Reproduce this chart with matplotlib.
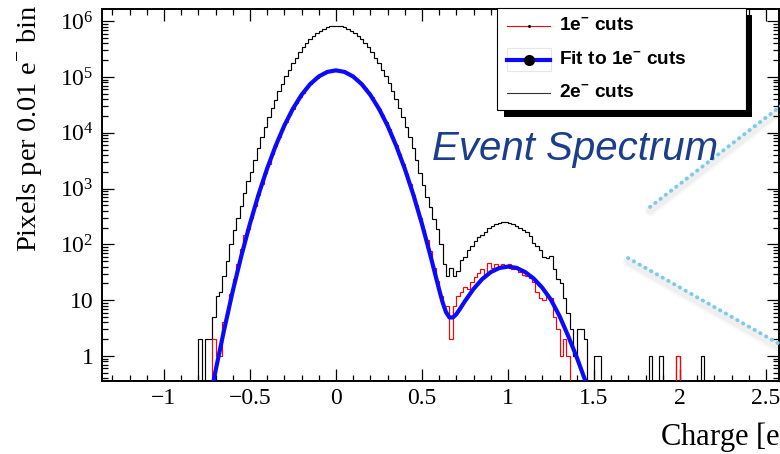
import numpy as np
import matplotlib
matplotlib.use("Agg")
import matplotlib.pyplot as plt
from matplotlib.patches import Rectangle
from matplotlib.ticker import LogLocator, MultipleLocator, FuncFormatter, NullFormatter

# ---------------- data (counts per bin, bin width 0.02 e-) ----------------
bin_width = 0.02

black_start = -0.80
black_counts = [
    2, 0, 2, 2, 5, 12, 14, 27, 50, 100, 178, 300, 490, 820, 1350, 1950, 3300,
    5300, 8300, 12700, 18900, 27600, 39500, 55500, 76200, 102800, 135800,
    175800, 223300, 277700, 338800, 405500, 475300, 546500, 615500, 680000,
    736500, 781600, 813000, 830000, 829000, 812000, 782000, 737000, 681000,
    616000, 547000, 476000, 406000, 339000, 278000, 224000, 176500, 136500,
    103500, 77000, 56200, 40200, 28100, 19300, 12900, 8400, 5300, 3300, 1900,
    1150, 720, 470, 290, 190, 100, 45, 27, 38, 27, 34, 52, 60, 80, 94, 116,
    135, 148, 170, 200, 215, 230, 240, 255, 250, 238, 228, 215, 195, 178, 165,
    140, 108, 95, 80, 60, 58, 62, 36, 24, 20, 11, 6, 3, 1, 3, 3, 2, 0, 0, 1,
    1, 0,
]
black_tail_edges = [1.82, 1.88, 1.98, 2.12]
black_tail_counts = [1, 1, 1, 1]
black_end = 2.20

red_start = -0.72
red_counts = [
    2, 1, 1, 4, 6, 13, 24, 45, 83, 150, 190,
    300, 490, 780, 1220, 1870, 2800, 4110, 5920, 8360, 11560, 15660, 20800,
    27070, 34500, 43150, 52840, 63400, 74570, 85900, 97000, 107400, 116400,
    123700, 128800, 131500,
    131400, 128700, 123800, 116300, 107500, 96900, 85800, 74600, 63300, 52900,
    43100, 34600, 27000, 20900, 15600, 11600, 8300, 5950, 4100, 2820, 1860,
    1230, 770, 500, 300, 185,
    120, 75, 38, 22, 12, 8, 8, 2, 8, 12, 14, 17, 16, 21, 26, 31, 36, 27, 46,
    38, 44, 40, 44, 40, 45, 36, 40, 32, 28, 27, 25, 21, 14, 11, 10, 12, 11, 5,
    3, 1, 2, 1,
]
red_tail_edges = [1.98]
red_tail_counts = [1]
red_end = 2.20

fit_x = [-0.74, -0.70, -0.65, -0.60, -0.55, -0.50, -0.45, -0.40, -0.35, -0.30,
         -0.25, -0.20, -0.15, -0.10, -0.05, 0.00, 0.05, 0.10, 0.15, 0.20, 0.25,
         0.30, 0.35, 0.40, 0.45, 0.50, 0.55, 0.60, 0.62, 0.64, 0.66, 0.68,
         0.70, 0.72, 0.75, 0.80, 0.85, 0.90, 0.95, 1.00, 1.05, 1.10, 1.15,
         1.20, 1.25, 1.30, 1.35, 1.40, 1.45, 1.48]
fit_y = [0.125, 0.54, 2.95, 14.5, 62, 234, 780, 2290, 5900, 13500, 27100,
         47900, 74600, 102300, 123700, 131800, 123700, 102300, 74600, 47900,
         27100, 13500, 5900, 2290, 780, 234, 62, 15.5, 9.2, 6.1, 4.9, 4.9,
         5.6, 6.9, 9.6, 15.9, 23.8, 31.8, 37.8, 40, 38, 32, 24.4, 16.7, 10.2,
         5.2, 2.3, 0.95, 0.36, 0.18]

legend_labels = ["1e$^{\\mathregular{-}}$ cuts",
                 "Fit to 1e$^{\\mathregular{-}}$ cuts",
                 "2e$^{\\mathregular{-}}$ cuts"]

# ---------------- helpers ----------------
FLOOR = 1e-3


def build_hist(start, end, counts, tail_edges, tail_counts):
    n = int(round((end - start) / bin_width))
    vals = np.zeros(n)
    vals[:len(counts)] = counts
    for e, c in zip(tail_edges, tail_counts):
        vals[int(round((e - start) / bin_width))] = c
    edges = start + bin_width * np.arange(n + 1)
    vals = np.where(vals > 0, vals, FLOOR)
    return edges, vals


# ---------------- figure ----------------
plt.rcParams['font.family'] = ['Liberation Serif', 'DejaVu Serif']
plt.rcParams['axes.unicode_minus'] = True

W, H = 780, 454
fig = plt.figure(figsize=(W / 100, H / 100), dpi=100)
L, R, T, B = 102, 779, 9, 381
ax = fig.add_axes([L / W, 1 - B / H, (R - L) / W, (B - T) / H])

ax.set_yscale('log')
ax.set_xlim(-1.36, 2.576)
ax.set_ylim(0.356, 1.66e6)

be, bv = build_hist(black_start, black_end, black_counts, black_tail_edges, black_tail_counts)
re_, rv = build_hist(red_start, red_end, red_counts, red_tail_edges, red_tail_counts)

ax.stairs(bv, be, baseline=FLOOR, color='black', lw=0.85, zorder=2)
ax.stairs(rv, re_, baseline=FLOOR, color='#ff0000', lw=0.85, zorder=3)
ax.plot(fit_x, fit_y, color='#0a0aff', lw=3.0, zorder=4, solid_joinstyle='round')

# ticks ROOT style
ax.xaxis.set_major_locator(MultipleLocator(0.5))
ax.xaxis.set_minor_locator(MultipleLocator(0.1))


def xfmt(v, p):
    v = round(v, 6)
    if v == 0:
        return '0'
    return ('%g' % v).replace('-', '\u2212')


ax.xaxis.set_major_formatter(FuncFormatter(xfmt))

ax.yaxis.set_major_locator(LogLocator(base=10, numticks=20))
ax.yaxis.set_minor_locator(LogLocator(base=10, subs=np.arange(2, 10), numticks=20))
ax.yaxis.set_minor_formatter(NullFormatter())


def yfmt(v, p):
    e = int(round(np.log10(v)))
    if e == 0:
        return '1'
    if e == 1:
        return '10'
    return r'$\mathregular{10^{%d}}$' % e


ax.yaxis.set_major_formatter(FuncFormatter(yfmt))

ax.tick_params(which='both', direction='in', top=True, right=True,
               labelsize=17, width=0.9, color='black')
ax.tick_params(which='major', length=8.6)
ax.tick_params(which='minor', length=4.3)
ax.tick_params(axis='x', pad=5)
ax.tick_params(axis='y', pad=6)
for sp in ax.spines.values():
    sp.set_linewidth(1.4)

# axis titles
fig.text(30 / W, 1 - 252 / H, "Pixels per 0.01 e$^{\\mathregular{-}}$ bin",
         rotation=90, ha='center', va='bottom', fontsize=20.5)
fig.text(660 / W, 1 - 437 / H, "Charge [e$^{\\mathregular{-}}$]",
         ha='left', va='center', fontsize=22)

# ---------------- overlay (legend, annotation) in pixel coords ----------------
oax = fig.add_axes([0, 0, 1, 1], zorder=5)
oax.set_xlim(0, W)
oax.set_ylim(H, 0)
oax.axis('off')
oax.patch.set_alpha(0)

# dotted callout lines with soft shadow
for (x0, y0, x1, y1) in [(650, 207, 790, 99), (628, 258, 790, 350)]:
    for lw, a in [(8, 0.025), (5, 0.04)]:
        oax.plot([x0, x1], [y0 + 4, y1 + 4], color='black', lw=lw, alpha=a,
                 solid_capstyle='round')
    oax.plot([x0, x1], [y0, y1], color='#7fcbe6', lw=2.8,
             ls=(0, (0.1, 1.6)), dash_capstyle='round')

# legend box with shadow
oax.add_patch(Rectangle((504, 15), 248, 102, fc='black', ec='none'))
oax.add_patch(Rectangle((497, 8), 249, 102, fc='white', ec='black', lw=0.8))
oax.add_patch(Rectangle((507, 48), 44, 23, fc='none', ec='#e2e6f0', lw=0.8))

ys = [26, 60, 93]
oax.plot([507, 550], [ys[0], ys[0]], color='#ff0000', lw=0.8)
oax.plot([528.5], [ys[0]], 'o', color='black', ms=1.2)
oax.plot([507, 550], [ys[1], ys[1]], color='#0a0aff', lw=3.0)
oax.plot([528.5], [ys[1]], 'o', color='black', ms=7)
oax.plot([507, 550], [ys[2], ys[2]], color='#333333', lw=0.8)
for y, lab in zip(ys, legend_labels):
    oax.text(559, y, lab, ha='left', va='center', fontsize=13.8,
             family='Liberation Sans', weight='bold')

oax.text(432, 160, "Event Spectrum", ha='left', va='baseline', fontsize=29,
         style='italic', family='Liberation Sans', color='#1a3e8c')

fig.savefig('out.png', dpi=100)
